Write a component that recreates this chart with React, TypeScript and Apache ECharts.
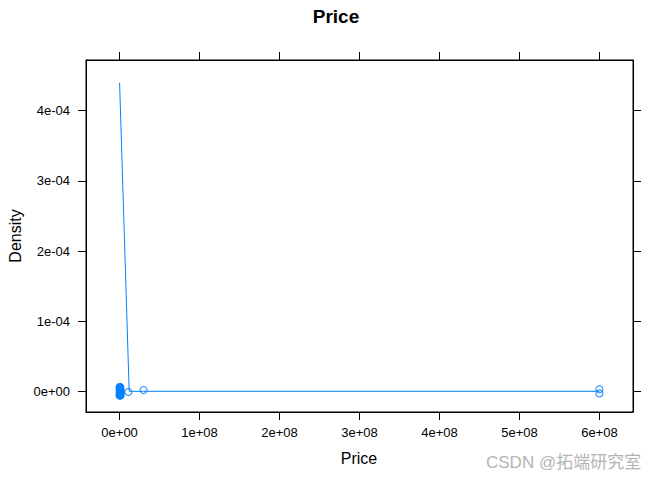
import React, { useEffect, useRef } from "react";
import * as echarts from "echarts";

const densityX = [0, 1.2e7, 3e7, 6e8];
const densityY = [4.4e-4, 0, 0, 0];

const pointX = [
  0, 2e5, 5e5, 1e6, 1.5e6, 3e5, 8e5, 1.2e6, 0, 4e5, 6e5, 1e6, 2e5, 7e5, 1.3e6, 9e5, 1e5, 5e5, 1.1e6, 3e5,
  1.1e7, 3e7, 6e8, 6e8,
];
const pointY = [
  6e-6, -6e-6, 4e-6, -3e-6, 1e-6, -5e-6, 5e-6, -1e-6, 2e-6, -4e-6, 3e-6, 0, -2e-6, 6e-6, -6e-6, 5.5e-6,
  -5.5e-6, 1.5e-6, -2.5e-6, 4.5e-6,
  -1e-6, 1.8e-6, 3e-6, -3e-6,
];

const xTicks = [0, 1e8, 2e8, 3e8, 4e8, 5e8, 6e8];
const yTicks = [0, 1e-4, 2e-4, 3e-4, 4e-4];

function sci(v: number): string {
  if (Math.abs(v) < 1e-15) return "0e+00";
  const e = Math.floor(Math.log10(Math.abs(v)) + 1e-9);
  const m = Math.round(v / Math.pow(10, e));
  const ae = Math.abs(e);
  return `${m}e${e < 0 ? "-" : "+"}${ae < 10 ? "0" + ae : ae}`;
}

const FONT = "'Liberation Sans', Arial, Helvetica, sans-serif";
const BLUE = "#0080ff";

export default function App() {
  const ref = useRef<HTMLDivElement>(null);
  useEffect(() => {
    if (!ref.current) return;
    const chart = echarts.init(ref.current, undefined, { renderer: "svg" });
    const xMin = -0.42e8;
    const xMax = 6.42e8;
    const yMin = -0.295e-4;
    const yMax = 4.723e-4;
    const axisCommon = {
      type: "value" as const,
      axisLine: { show: true, onZero: false, lineStyle: { color: "#000", width: 1 } },
      axisTick: { show: true, length: 8, inside: false, lineStyle: { color: "#000", width: 1 } },
      splitLine: { show: false },
    };
    chart.setOption({
      animation: false,
      backgroundColor: "#fff",
      textStyle: { fontFamily: FONT },
      grid: {
        left: 86,
        top: 60,
        width: 547,
        height: 352,
        show: true,
        borderColor: "#000",
        borderWidth: 1,
        containLabel: false,
      },
      xAxis: [
        {
          ...axisCommon,
          position: "bottom",
          min: xMin,
          max: xMax,
          axisTick: { ...axisCommon.axisTick, customValues: xTicks },
          axisLabel: {
            customValues: xTicks,
            formatter: (v: number) => sci(v),
            color: "#000",
            fontSize: 13,
            fontFamily: FONT,
            margin: 14,
          },
        },
        {
          ...axisCommon,
          position: "top",
          min: xMin,
          max: xMax,
          axisTick: { ...axisCommon.axisTick, customValues: xTicks },
          axisLabel: { show: false },
        },
      ],
      yAxis: [
        {
          ...axisCommon,
          position: "left",
          min: yMin,
          max: yMax,
          axisTick: { ...axisCommon.axisTick, customValues: yTicks },
          axisLabel: {
            customValues: yTicks,
            formatter: (v: number) => sci(v),
            color: "#000",
            fontSize: 13,
            fontFamily: FONT,
            margin: 16,
          },
        },
        {
          ...axisCommon,
          position: "right",
          min: yMin,
          max: yMax,
          axisTick: { ...axisCommon.axisTick, customValues: yTicks },
          axisLabel: { show: false },
        },
      ],
      series: [
        {
          type: "line",
          xAxisIndex: 0,
          yAxisIndex: 0,
          data: densityX.map((x, i) => [x, densityY[i]]),
          showSymbol: false,
          symbol: "none",
          lineStyle: { color: BLUE, width: 1 },
          silent: true,
        },
        {
          type: "scatter",
          xAxisIndex: 0,
          yAxisIndex: 0,
          data: pointX.map((x, i) => [x, pointY[i]]),
          symbol: "circle",
          symbolSize: 7,
          itemStyle: { color: "rgba(0,0,0,0)", borderColor: BLUE, borderWidth: 1.2 },
          silent: true,
        },
      ],
      graphic: [
        {
          type: "text",
          x: 336,
          y: 16,
          style: {
            text: "Price",
            fontSize: 19,
            fontWeight: "bold",
            fontFamily: FONT,
            fill: "#000",
            align: "center",
            verticalAlign: "middle",
          },
        },
        {
          type: "text",
          x: 359,
          y: 458,
          style: {
            text: "Price",
            fontSize: 16,
            fontFamily: FONT,
            fill: "#000",
            align: "center",
            verticalAlign: "middle",
          },
        },
        {
          type: "text",
          x: 15,
          y: 236,
          rotation: Math.PI / 2,
          style: {
            text: "Density",
            fontSize: 16,
            fontFamily: FONT,
            fill: "#000",
            align: "center",
            verticalAlign: "middle",
          },
        },
        {
          type: "text",
          x: 486,
          y: 462,
          style: {
            text: "CSDN @拓端研究室",
            fontSize: 17,
            fontFamily: "'Liberation Sans', 'Noto Sans CJK SC', sans-serif",
            fill: "#b4b4b4",
            align: "left",
            verticalAlign: "middle",
          },
        },
      ],
    });
    return () => chart.dispose();
  }, []);
  return <div ref={ref} style={{ width: 672, height: 480, position: "absolute", left: 0, top: 0 }} />;
}
